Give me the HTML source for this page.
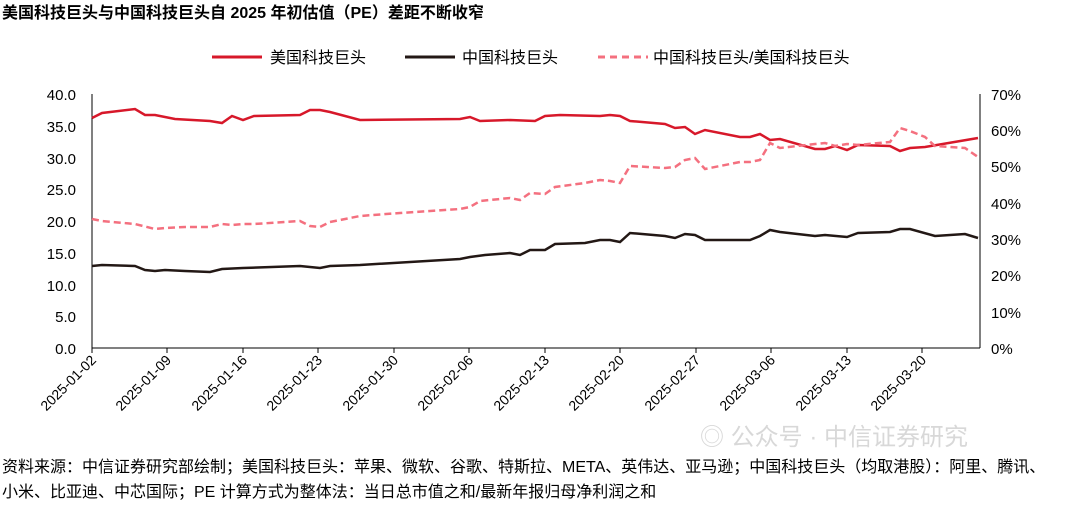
<!DOCTYPE html>
<html><head><meta charset="utf-8"><style>
body{margin:0;background:#fff;}
svg text{font-family:"Liberation Sans","Noto Sans CJK SC",sans-serif;}
</style></head><body>
<svg width="1080" height="506" viewBox="0 0 1080 506" xmlns="http://www.w3.org/2000/svg">
<text x="2" y="18" font-size="16" font-weight="bold" fill="#000">美国科技巨头与中国科技巨头自 2025 年初估值（PE）差距不断收窄</text>
<!-- legend -->
<line x1="212" y1="57" x2="262" y2="57" stroke="#d7182a" stroke-width="3"/>
<text x="270" y="63" font-size="16">美国科技巨头</text>
<line x1="405" y1="57" x2="455" y2="57" stroke="#231815" stroke-width="3"/>
<text x="462" y="63" font-size="16">中国科技巨头</text>
<line x1="598" y1="57" x2="648" y2="57" stroke="#f4707f" stroke-width="3" stroke-dasharray="7,5"/>
<text x="653" y="63" font-size="16">中国科技巨头/美国科技巨头</text>
<!-- axes -->
<g stroke="#000" stroke-width="1" fill="none">
<line x1="92" y1="94" x2="92" y2="348"/>
<line x1="980" y1="94" x2="980" y2="348"/>
<line x1="92" y1="348" x2="980" y2="348"/>
</g>
<g font-size="15" text-anchor="end">
<text x="76" y="100">40.0</text><text x="76" y="132">35.0</text><text x="76" y="164">30.0</text><text x="76" y="195">25.0</text><text x="76" y="227">20.0</text><text x="76" y="259">15.0</text><text x="76" y="291">10.0</text><text x="76" y="322">5.0</text><text x="76" y="354">0.0</text>
</g>
<g font-size="15">
<text x="991" y="100">70%</text><text x="991" y="136">60%</text><text x="991" y="172">50%</text><text x="991" y="209">40%</text><text x="991" y="245">30%</text><text x="991" y="281">20%</text><text x="991" y="318">10%</text><text x="991" y="354">0%</text>
</g>
<g font-size="14" text-anchor="end">
<text transform="translate(97,361) rotate(-45)">2025-01-02</text>
<text transform="translate(172,361) rotate(-45)">2025-01-09</text>
<text transform="translate(248,361) rotate(-45)">2025-01-16</text>
<text transform="translate(323,361) rotate(-45)">2025-01-23</text>
<text transform="translate(399,361) rotate(-45)">2025-01-30</text>
<text transform="translate(474,361) rotate(-45)">2025-02-06</text>
<text transform="translate(550,361) rotate(-45)">2025-02-13</text>
<text transform="translate(625,361) rotate(-45)">2025-02-20</text>
<text transform="translate(701,361) rotate(-45)">2025-02-27</text>
<text transform="translate(776,361) rotate(-45)">2025-03-06</text>
<text transform="translate(852,361) rotate(-45)">2025-03-13</text>
<text transform="translate(927,361) rotate(-45)">2025-03-20</text>
</g>
<g stroke="#000" stroke-width="1">
<line x1="92" y1="348" x2="92" y2="353"/><line x1="167" y1="348" x2="167" y2="353"/><line x1="243" y1="348" x2="243" y2="353"/><line x1="318" y1="348" x2="318" y2="353"/><line x1="394" y1="348" x2="394" y2="353"/><line x1="469" y1="348" x2="469" y2="353"/><line x1="545" y1="348" x2="545" y2="353"/><line x1="620" y1="348" x2="620" y2="353"/><line x1="696" y1="348" x2="696" y2="353"/><line x1="771" y1="348" x2="771" y2="353"/><line x1="847" y1="348" x2="847" y2="353"/><line x1="922" y1="348" x2="922" y2="353"/>
</g>
<!-- series -->
<polyline fill="none" stroke="#d7182a" stroke-width="2.5" points="92,118 102,113 135,109 145,115 155,115 175,119 210,121 222,123 232,116 243,120 254,116 300,115 310,110 320,110 330,112 360,120 460,119 470,117 480,121 510,120 535,121 545,116 560,115 600,116 610,115 620,116 630,121 665,124 675,128 685,127 695,134 705,130 740,137 750,137 760,134 770,140 780,139 815,149 825,149 835,146 847,150 858,145 890,146 900,151 910,148 925,147 978,138"/>
<polyline fill="none" stroke="#231815" stroke-width="2.5" points="92,266 102,265 135,266 145,270 155,271 165,270 185,271 210,272 222,269 243,268 300,266 320,268 330,266 360,265 460,259 470,257 485,255 510,253 520,255 530,250 545,250 555,244 585,243 600,240 610,240 620,242 630,233 665,236 675,238 685,234 695,235 705,240 750,240 760,236 770,230 780,232 815,236 825,235 847,237 858,233 890,232 900,229 910,229 935,236 965,234 978,238"/>
<polyline fill="none" stroke="#f4707f" stroke-width="2.5" stroke-dasharray="7,4" points="92,219 102,221 135,224 155,229 165,228 185,227 210,227 222,224 232,225 243,224 254,224 300,221 310,226 320,227 330,222 360,216 400,213 460,209 470,207 480,201 510,198 520,200 530,193 545,194 555,187 585,183 600,180 610,181 620,183 630,166 665,168 675,167 685,160 695,158 705,169 740,162 750,162 760,160 770,143 780,148 815,144 825,143 835,146 847,144 858,145 890,142 900,128 910,131 925,137 935,146 965,148 978,157"/>
<text x="700" y="445" font-size="24" fill="#d8d8d8">◎ 公众号 · 中信证券研究</text>
<text x="2" y="472" font-size="16">资料来源：中信证券研究部绘制；美国科技巨头：苹果、微软、谷歌、特斯拉、META、英伟达、亚马逊；中国科技巨头（均取港股）：阿里、腾讯、</text>
<text x="2" y="497" font-size="16">小米、比亚迪、中芯国际；PE 计算方式为整体法：当日总市值之和/最新年报归母净利润之和</text>
</svg>
</body></html>
